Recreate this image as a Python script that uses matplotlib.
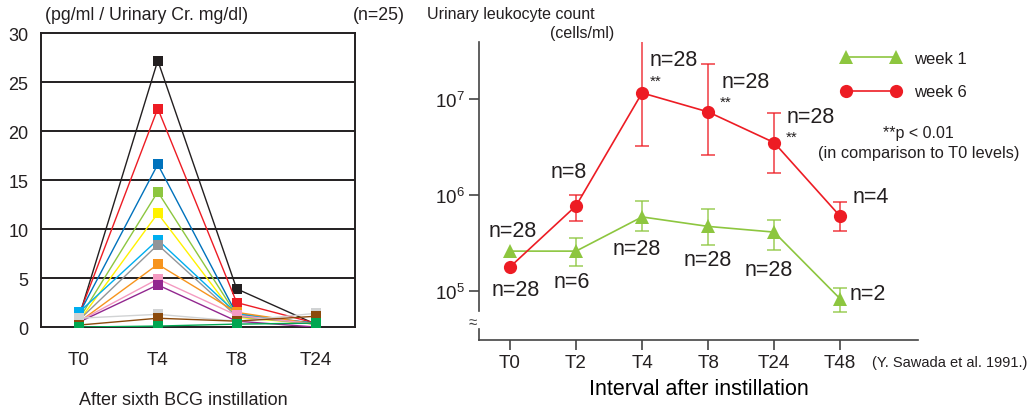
import numpy as np
import matplotlib.pyplot as plt
from matplotlib.lines import Line2D

# --- data: left panel (cytokine per urinary creatinine, n=25) ---
left_times = ['T0', 'T4', 'T8', 'T24']
left_series = {
    '#231f20': [1.0, 27.2, 3.9, 0.3],
    '#ed1c24': [1.2, 22.3, 2.5, 0.4],
    '#0072bc': [1.3, 16.6, 1.3, 0.4],
    '#8dc63f': [0.8, 13.8, 1.2, 0.3],
    '#fff200': [0.6, 11.6, 1.0, 0.3],
    '#00aeef': [1.5, 8.9, 1.4, 0.3],
    '#939598': [0.7, 8.4, 1.1, 0.3],
    '#f7941d': [0.5, 6.4, 1.5, 0.3],
    '#f49ac1': [0.6, 4.9, 1.2, 0.3],
    '#92278f': [0.5, 4.3, 0.6, 0.0],
    '#d1d3d4': [0.9, 1.3, 0.6, 1.4],
    '#8b4a0c': [0.2, 0.9, 0.6, 1.1],
    '#00a651': [0.0, 0.1, 0.3, 0.4],
}

# --- data: right panel (urinary leukocyte count) ---
right_times = ['T0', 'T2', 'T4', 'T8', 'T24', 'T48']
week6_mean = [1.78e5, 7.7e5, 1.15e7, 7.3e6, 3.5e6, 6.0e5]
week6_low = [None, 5.4e5, 3.2e6, 2.6e6, 1.7e6, 4.2e5]
week6_high = [None, 1.0e6, 4.2e7, 2.3e7, 7.1e6, 8.5e5]
week6_n = ['n=28', 'n=8', 'n=28', 'n=28', 'n=28', 'n=4']
week6_star = ['', '', '**', '**', '**', '']

week1_mean = [2.6e5, 2.6e5, 5.9e5, 4.7e5, 4.1e5, 8.3e4]
week1_low = [None, 1.8e5, 4.2e5, 3.0e5, 2.7e5, 6.0e4]
week1_high = [None, 3.6e5, 8.7e5, 7.1e5, 5.5e5, 1.07e5]
week1_n = ['n=28', 'n=6', 'n=28', 'n=28', 'n=28', 'n=2']

# label offsets in points (dx, dy) relative to each point
week6_off = [(4, -16), (-5, 25), (23, 24), (27, 22), (26, 19), (22, 14)]
week6_star_off = [(0, 0), (0, 0), (10, 9), (13, 7), (13, 4), (0, 0)]
week1_off = [(2, 15), (-3, -22), (-4, -23), (0, -24), (-4, -27), (20, 4)]

RED = '#ed1c24'
GREEN = '#8dc63f'
DARK = '#231f20'

plt.rcParams['font.family'] = ['Liberation Sans', 'DejaVu Sans']
plt.rcParams['text.color'] = DARK
plt.rcParams['mathtext.fontset'] = 'custom'
plt.rcParams['mathtext.rm'] = 'Liberation Sans'

fig = plt.figure(figsize=(10.31, 4.06), dpi=100)

# ---------------- left panel ----------------
ax1 = fig.add_axes([0.0398, 0.192, 0.3045, 0.724])
xs = np.arange(len(left_times))
for color, vals in left_series.items():
    ax1.plot(xs, vals, color=color, lw=1.0, marker='s', ms=7,
             markeredgewidth=0, zorder=3)
ax1.set_xlim(-0.48, 3.5)
ax1.set_ylim(0, 30)
ax1.set_yticks(np.arange(0, 31, 5))
ax1.set_xticks(xs)
ax1.set_xticklabels(left_times)
for y in range(5, 30, 5):
    ax1.axhline(y, color=DARK, lw=1.4, zorder=1)
for s in ax1.spines.values():
    s.set_linewidth(1.4)
    s.set_color(DARK)
ax1.tick_params(axis='y', length=0, pad=9, labelsize=13, colors=DARK)
ax1.tick_params(axis='x', length=0, pad=17, labelsize=13.5, colors=DARK)
fig.text(0.044, 0.962, '(pg/ml / Urinary Cr. mg/dl)', fontsize=12.8, va='center')
fig.text(0.393, 0.962, '(n=25)', fontsize=12.8, va='center', ha='right')
fig.text(0.178, 0.014, 'After sixth BCG instillation', fontsize=13,
         va='center', ha='center')

# ---------------- right panel ----------------
ax2 = fig.add_axes([0.4646, 0.160, 0.4258, 0.734])
ax2.set_yscale('log')
xr = np.arange(len(right_times))


def draw_series(means, lows, highs, color, marker, ms):
    for i, (m, lo, hi) in enumerate(zip(means, lows, highs)):
        if lo is None:
            continue
        ax2.errorbar(i, m, yerr=[[m - lo], [hi - m]], color=color, alpha=0.8,
                     lw=1.2, capsize=5, capthick=1.2, zorder=2)
    ax2.plot(xr, means, color=color, lw=1.2, marker=marker, ms=ms,
             markeredgewidth=0, zorder=3)


draw_series(week1_mean, week1_low, week1_high, GREEN, '^', 10)
draw_series(week6_mean, week6_low, week6_high, RED, 'o', 9.5)

for i in range(len(right_times)):
    ax2.annotate(week6_n[i], (i, week6_mean[i]), xytext=week6_off[i],
                 textcoords='offset points', ha='center', va='center', fontsize=15.5)
    if week6_star[i]:
        ax2.annotate(week6_star[i], (i, week6_mean[i]), xytext=week6_star_off[i],
                     textcoords='offset points', ha='center', va='center', fontsize=11)
    ax2.annotate(week1_n[i], (i, week1_mean[i]), xytext=week1_off[i],
                 textcoords='offset points', ha='center', va='center', fontsize=15.5)

ax2.set_xlim(-0.47, 6.18)
ax2.set_ylim(10 ** 4.49, 10 ** 7.59)
ax2.set_xticks(xr)
ax2.set_xticklabels(right_times)
ax2.set_yticks([1e5, 1e6, 1e7])
ax2.yaxis.set_minor_locator(plt.NullLocator())
for side in ('top', 'right'):
    ax2.spines[side].set_visible(False)
ax2.spines['bottom'].set_color('#444444')
ax2.spines['bottom'].set_linewidth(1.2)
# broken y axis
ax2.spines['left'].set_bounds(10 ** 4.79, 10 ** 7.59)
ax2.spines['left'].set_color('#444444')
ax2.spines['left'].set_linewidth(1.2)
ax2.add_line(Line2D([0, 0], [10 ** 4.49, 10 ** 4.60], color='#444444', lw=1.2,
                    transform=ax2.get_yaxis_transform(), clip_on=False))
ax2.text(-0.015, 10 ** 4.68, '≈', transform=ax2.get_yaxis_transform(),
         ha='center', va='center', fontsize=11, color='#444444')
ax2.tick_params(axis='both', direction='out', length=7, width=1.2,
                color='#444444', labelsize=13.5, labelcolor=DARK)
ax2.tick_params(axis='x', pad=3)
ax2.set_xlabel('Interval after instillation', fontsize=15.5, labelpad=5)

fig.text(0.414, 0.965, 'Urinary leukocyte count', fontsize=11.5, va='center')
fig.text(0.533, 0.918, '(cells/ml)', fontsize=11.5, va='center')
fig.text(0.846, 0.107, '(Y. Sawada et al. 1991.)', fontsize=10.5, va='center')

leg_handles = [
    Line2D([], [], color=GREEN, lw=1.2, marker='^', ms=10, markeredgewidth=0),
    Line2D([], [], color=RED, lw=1.2, marker='o', ms=9.5, markeredgewidth=0),
]
ax2.legend(leg_handles, ['week 1', 'week 6'], numpoints=2, handlelength=3.6,
           frameon=False, fontsize=12, labelspacing=1.1,
           loc='upper left', bbox_to_anchor=(0.79, 1.02))
fig.text(0.891, 0.672, '**p < 0.01', fontsize=11.5, ha='center', va='center')
fig.text(0.891, 0.622, '(in comparison to T0 levels)', fontsize=11.8,
         ha='center', va='center')

plt.savefig('out.png', dpi=100)
